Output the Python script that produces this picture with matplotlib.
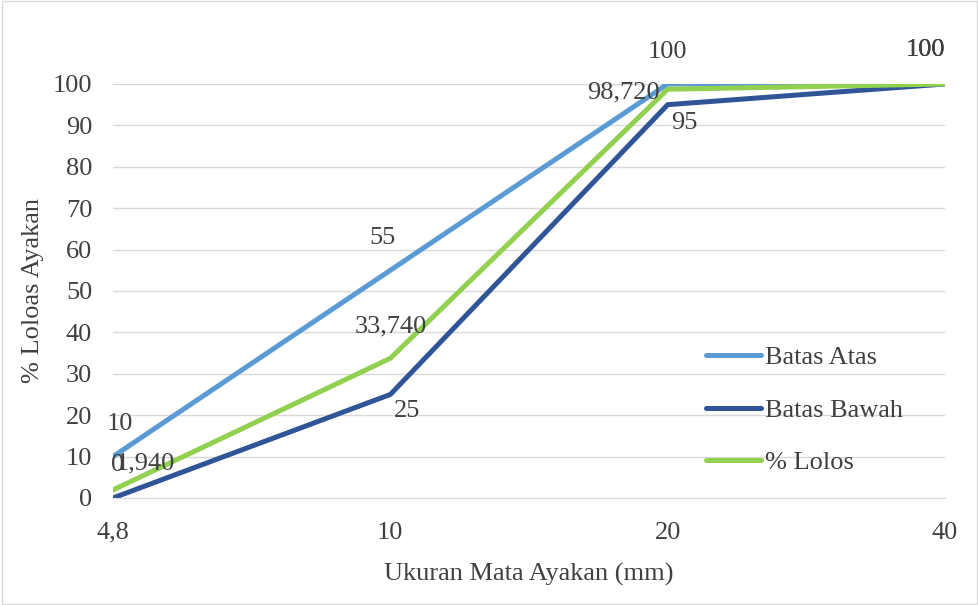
import matplotlib
matplotlib.use("Agg")
import matplotlib.pyplot as plt
from matplotlib.patches import Rectangle

# data
sieve = ["4,8", "10", "20", "40"]
batas_atas = [10, 55, 100, 100]
batas_bawah = [0, 25, 95, 100]
lolos = [1.94, 33.74, 98.72, 100]

atas_lbl = ["10", "55", "100", "100"]
bawah_lbl = ["0", "25", "95", "100"]
lolos_lbl = ["1,940", "33,740", "98,720", "100"]

plt.rcParams['font.family'] = ['Liberation Serif', 'DejaVu Serif']
fs = 19
txtc = '#404040'

fig = plt.figure(figsize=(9.79, 6.05), dpi=100)
ax = fig.add_axes([0.1154, 0.1769, 0.8499, 0.6843])
fig.patches.append(Rectangle((0.002, 0.002), 0.996, 0.996, transform=fig.transFigure,
                             fill=False, edgecolor='#d9d9d9', linewidth=1))

x = list(range(len(sieve)))
ax.plot(x, batas_atas, color='#5B9BD5', lw=3.6, label='Batas Atas', solid_capstyle='round')
ax.plot(x, batas_bawah, color='#2F5597', lw=3.6, label='Batas Bawah', solid_capstyle='round')
ax.plot(x, lolos, color='#92D050', lw=3.6, label='% Lolos', solid_capstyle='round')

# label offsets in pixels
off_atas = [(7, 33), (-8, 32), (0, 32), (-20, 34)]
off_bawah = [(5, 33), (17, -17), (17, -18), (-20, 34)]
off_lolos = [(32, 26), (0, 32), (-44, -3), (-20, 34)]
for vals, lbls, offs in [(batas_atas, atas_lbl, off_atas),
                         (batas_bawah, bawah_lbl, off_bawah),
                         (lolos, lolos_lbl, off_lolos)]:
    for i, (v, t, o) in enumerate(zip(vals, lbls, offs)):
        ax.annotate(t, (x[i], v), xytext=o, textcoords='offset pixels',
                    ha='center', va='center', fontsize=fs, color=txtc,
                    annotation_clip=False)

ax.set_xlim(0, 3)
ax.set_ylim(0, 100)
ax.set_yticks(range(0, 101, 10))
ax.set_xticks(x)
ax.set_xticklabels(sieve)
ax.grid(axis='y', color='#d9d9d9', lw=1)
ax.set_axisbelow(True)
for s in ['top', 'right', 'left']:
    ax.spines[s].set_visible(False)
ax.spines['bottom'].set_color('#d9d9d9')
ax.tick_params(axis='both', length=0, labelsize=fs, labelcolor=txtc)
ax.tick_params(axis='y', pad=15)
ax.tick_params(axis='x', pad=17)

ax.set_xlabel('Ukuran Mata Ayakan (mm)', fontsize=fs, color=txtc, labelpad=14)
ax.set_ylabel('% Loloas Ayakan', fontsize=fs, color=txtc, labelpad=6)

leg = ax.legend(loc='upper left', bbox_to_anchor=(0.684, 0.425), frameon=False,
                fontsize=fs, labelspacing=1.1, handlelength=2.1, handletextpad=0.15,
                labelcolor=txtc)

fig.savefig('out.png', dpi=100)
